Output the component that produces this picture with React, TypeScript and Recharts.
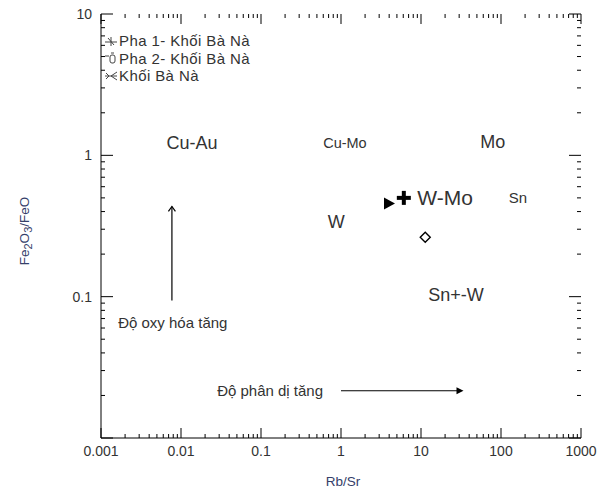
import React from "react";
import {
  ScatterChart,
  Scatter,
  XAxis,
  YAxis,
  ReferenceDot,
  ReferenceLine,
  Legend,
} from "recharts";

// ---------------------------------------------------------------------------
// Data (Rb/Sr vs Fe2O3/FeO)
// ---------------------------------------------------------------------------

const PHA_1 = [{ rbsr: 6.1, fe: 0.5 }];
const PHA_2 = [{ rbsr: 11.3, fe: 0.263 }];
const KHOI = [{ rbsr: 3.98, fe: 0.457 }];

const X_MAJOR = [0.001, 0.01, 0.1, 1, 10, 100, 1000];
const Y_MAJOR = [0.01, 0.1, 1, 10];
const X_LABELS = ["0.001", "0.01", "0.1", "1", "10", "100", "1000"];
const Y_LABELS = ["", "0.1", "1", "10"];

// field labels: text, x, y, font size
const FIELDS: [string, number, number, number][] = [
  ["Cu-Au", 0.0137, 1.22, 18],
  ["Cu-Mo", 1.12, 1.22, 14.5],
  ["Mo", 79, 1.24, 18],
  ["W-Mo", 20, 0.5, 21],
  ["Sn", 163, 0.5, 15],
  ["W", 0.87, 0.335, 18],
  ["Sn+-W", 27.4, 0.102, 18],
  ["Độ oxy hóa tăng", 0.0079, 0.0654, 15],
  ["Độ phân dị tăng", 0.13, 0.0216, 15],
];

const minorTicks = (majors: number[]) => {
  const out: number[] = [];
  for (let i = 0; i < majors.length; i++) {
    out.push(majors[i]);
    if (i < majors.length - 1) {
      for (let k = 2; k <= 9; k++) out.push(+(majors[i] * k).toPrecision(3));
    }
  }
  return out;
};

const X_TICKS = minorTicks(X_MAJOR);
const Y_TICKS = minorTicks(Y_MAJOR);

const FONT = "'Liberation Sans', Arial, sans-serif";
const TICK_COLOR = "#333";
const LABEL_COLOR = "#34406a";

const isMajor = (list: number[], v: number) =>
  list.some((m) => Math.abs(m - v) / m < 1e-6);

// ---------------------------------------------------------------------------
// Tick labels
// ---------------------------------------------------------------------------

function BottomLabel(props: any) {
  const { x, y, index } = props;
  return (
    <text x={x} y={y + 18} textAnchor="middle" fontSize={14} fill={TICK_COLOR} fontFamily={FONT}>
      {X_LABELS[index]}
    </text>
  );
}

function LeftLabel(props: any) {
  const { x, y, index } = props;
  if (!Y_LABELS[index]) return null;
  return (
    <text x={x - 9} y={y + 5} textAnchor="end" fontSize={14} fill={TICK_COLOR} fontFamily={FONT}>
      {Y_LABELS[index]}
    </text>
  );
}

// inward tick marks on both sides of the frame
const xTickShape = (len: number) => (p: any) => {
  const x = p.x1;
  const top = Math.min(p.y1, p.y2);
  const bot = Math.max(p.y1, p.y2);
  return (
    <g stroke="#000" strokeWidth={1}>
      <line x1={x} y1={bot} x2={x} y2={bot - len} />
      <line x1={x} y1={top} x2={x} y2={top + len} />
    </g>
  );
};

const yTickShape = (len: number) => (p: any) => {
  const y = p.y1;
  const l = Math.min(p.x1, p.x2);
  const r = Math.max(p.x1, p.x2);
  return (
    <g stroke="#000" strokeWidth={1}>
      <line x1={l} y1={y} x2={l + len} y2={y} />
      <line x1={r} y1={y} x2={r - len} y2={y} />
    </g>
  );
};

// ---------------------------------------------------------------------------
// Markers
// ---------------------------------------------------------------------------

const PlusShape = (p: any) => (
  <g>
    <line x1={p.cx - 7} y1={p.cy} x2={p.cx + 7} y2={p.cy} stroke="#000" strokeWidth={4} />
    <line x1={p.cx} y1={p.cy - 7} x2={p.cx} y2={p.cy + 7} stroke="#000" strokeWidth={4} />
  </g>
);

const DiamondShape = (p: any) => (
  <polygon
    points={`${p.cx},${p.cy - 5} ${p.cx + 5},${p.cy} ${p.cx},${p.cy + 5} ${p.cx - 5},${p.cy}`}
    fill="#fff"
    stroke="#000"
    strokeWidth={1.4}
  />
);

const TriangleShape = (p: any) => (
  <polygon
    points={`${p.cx - 5},${p.cy - 6} ${p.cx + 6},${p.cy} ${p.cx - 5},${p.cy + 6}`}
    fill="#000"
  />
);

// ---------------------------------------------------------------------------
// Legend
// ---------------------------------------------------------------------------

const LEGEND_ITEMS = [
  { label: "Pha 1- Khối Bà Nà", icon: "plus" },
  { label: "Pha 2- Khối Bà Nà", icon: "diamond" },
  { label: "Khối Bà Nà", icon: "tri" },
];

function LegendIcon({ icon }: { icon: string }) {
  return (
    <svg width={14} height={12} style={{ marginRight: 1 }}>
      {icon === "plus" && (
        <g stroke="#444" strokeWidth={1}>
          <line x1={1} y1={7} x2={13} y2={7} />
          <line x1={7} y1={2} x2={7} y2={11} />
          <line x1={4} y1={3} x2={10} y2={10} />
        </g>
      )}
      {icon === "diamond" && (
        <g stroke="#444" strokeWidth={1} fill="none">
          <line x1={1} y1={4} x2={5} y2={4} />
          <rect x={6} y={3} width={5} height={8} rx={2} />
          <line x1={7} y1={1} x2={10} y2={1} />
        </g>
      )}
      {icon === "tri" && (
        <g stroke="#444" strokeWidth={1} fill="none">
          <line x1={1} y1={6} x2={13} y2={6} />
          <polyline points="13,2 7,6 13,10" />
          <polyline points="2,3 5,6 2,9" />
        </g>
      )}
    </svg>
  );
}

function LegendContent() {
  return (
    <div style={{ fontFamily: FONT, fontSize: 15, color: "#333", lineHeight: "17.5px", letterSpacing: 0.4 }}>
      {LEGEND_ITEMS.map((it) => (
        <div key={it.label} style={{ display: "flex", alignItems: "center" }}>
          <LegendIcon icon={it.icon} />
          <span>{it.label}</span>
        </div>
      ))}
    </div>
  );
}

// ---------------------------------------------------------------------------
// Arrows
// ---------------------------------------------------------------------------

const UpArrow = (p: any) => {
  const { x1, y1, y2 } = p;
  const top = Math.min(y1, y2);
  const bot = Math.max(y1, y2);
  return (
    <g stroke="#000" strokeWidth={1.2} fill="none">
      <line x1={x1} y1={bot} x2={x1} y2={top} />
      <polyline points={`${x1 - 3.5},${top + 5} ${x1},${top} ${x1 + 3.5},${top + 5}`} />
    </g>
  );
};

const RightArrow = (p: any) => {
  const { x1, y1, x2 } = p;
  const l = Math.min(x1, x2);
  const r = Math.max(x1, x2);
  return (
    <g>
      <line x1={l} y1={y1} x2={r - 3} y2={y1} stroke="#000" strokeWidth={1.2} />
      <polygon points={`${r - 7},${y1 - 3.5} ${r},${y1} ${r - 7},${y1 + 3.5}`} fill="#000" />
    </g>
  );
};

// ---------------------------------------------------------------------------
// Main
// ---------------------------------------------------------------------------

export default function App() {
  return (
    <div style={{ width: 600, height: 486, fontFamily: FONT }}>
      <ScatterChart width={600} height={486} margin={{ top: 6, right: 27, bottom: 0, left: 0 }}>
        <XAxis
          xAxisId="b"
          dataKey="rbsr"
          type="number"
          scale="log"
          domain={[0.001, 1000]}
          allowDataOverflow
          ticks={X_MAJOR}
          interval={0}
          tickSize={0}
          tickMargin={0}
          tickLine={false}
          tick={<BottomLabel />}
          height={56}
          axisLine={{ stroke: "#000" }}
          label={{
            content: () => (
              <text x={335} y={478} textAnchor="middle" fontSize={13.5} fill={LABEL_COLOR} fontFamily={FONT}>
                Rb/Sr
              </text>
            ),
          }}
        />
        <XAxis
          xAxisId="t"
          orientation="top"
          type="number"
          scale="log"
          domain={[0.001, 1000]}
          allowDataOverflow
          tick={false}
          tickLine={false}
          height={0}
          axisLine={{ stroke: "#000" }}
        />
        <YAxis
          yAxisId="l"
          dataKey="fe"
          type="number"
          scale="log"
          domain={[0.01, 10]}
          allowDataOverflow
          ticks={Y_MAJOR}
          interval={0}
          tickSize={0}
          tickMargin={0}
          tickLine={false}
          tick={<LeftLabel />}
          width={93}
          axisLine={{ stroke: "#000" }}
          label={{
            content: () => (
              <text
                transform="translate(21,223) rotate(-90)"
                textAnchor="middle"
                fontSize={13.5}
                fill={LABEL_COLOR}
                fontFamily={FONT}
              >
                Fe
                <tspan fontSize={11} dy={3}>2</tspan>
                <tspan dy={-3}>O</tspan>
                <tspan fontSize={11} dy={3}>3</tspan>
                <tspan dy={-3}>/FeO</tspan>
              </text>
            ),
          }}
        />
        <YAxis
          yAxisId="r"
          orientation="right"
          type="number"
          scale="log"
          domain={[0.01, 10]}
          allowDataOverflow
          tick={false}
          tickLine={false}
          width={0}
          axisLine={{ stroke: "#000" }}
        />

        {X_TICKS.map((v) => (
          <ReferenceLine
            key={"xt" + v}
            xAxisId="b"
            yAxisId="l"
            x={v}
            shape={xTickShape(isMajor(X_MAJOR, v) ? 10 : 4)}
          />
        ))}
        {Y_TICKS.map((v) => (
          <ReferenceLine
            key={"yt" + v}
            xAxisId="b"
            yAxisId="l"
            y={v}
            shape={yTickShape(isMajor(Y_MAJOR, v) ? 12 : 4)}
          />
        ))}

        <Legend
          layout="vertical"
          align="center"
          verticalAlign="middle"
          content={<LegendContent />}
          wrapperStyle={{ position: "absolute", left: 96, top: 24, width: 240, height: 60 }}
        />

        {FIELDS.map(([text, x, y, size]) => (
          <ReferenceDot
            key={text}
            xAxisId="b"
            yAxisId="l"
            x={x}
            y={y}
            r={0}
            shape={(p: any) => (
              <text
                x={p.cx}
                y={p.cy}
                textAnchor="middle"
                dominantBaseline="central"
                fontSize={size}
                fill="#333"
                fontFamily={FONT}
              >
                {text}
              </text>
            )}
          />
        ))}

        <ReferenceLine
          xAxisId="b"
          yAxisId="l"
          segment={[
            { x: 0.0077, y: 0.094 },
            { x: 0.0077, y: 0.435 },
          ]}
          shape={UpArrow}
        />
        <ReferenceLine
          xAxisId="b"
          yAxisId="l"
          segment={[
            { x: 1.0, y: 0.0216 },
            { x: 34, y: 0.0216 },
          ]}
          shape={RightArrow}
        />

        <Scatter name="Pha 1- Khối Bà Nà" data={PHA_1} xAxisId="b" yAxisId="l" shape={PlusShape} isAnimationActive={false} />
        <Scatter name="Pha 2- Khối Bà Nà" data={PHA_2} xAxisId="b" yAxisId="l" shape={DiamondShape} isAnimationActive={false} />
        <Scatter name="Khối Bà Nà" data={KHOI} xAxisId="b" yAxisId="l" shape={TriangleShape} isAnimationActive={false} />
      </ScatterChart>
    </div>
  );
}
